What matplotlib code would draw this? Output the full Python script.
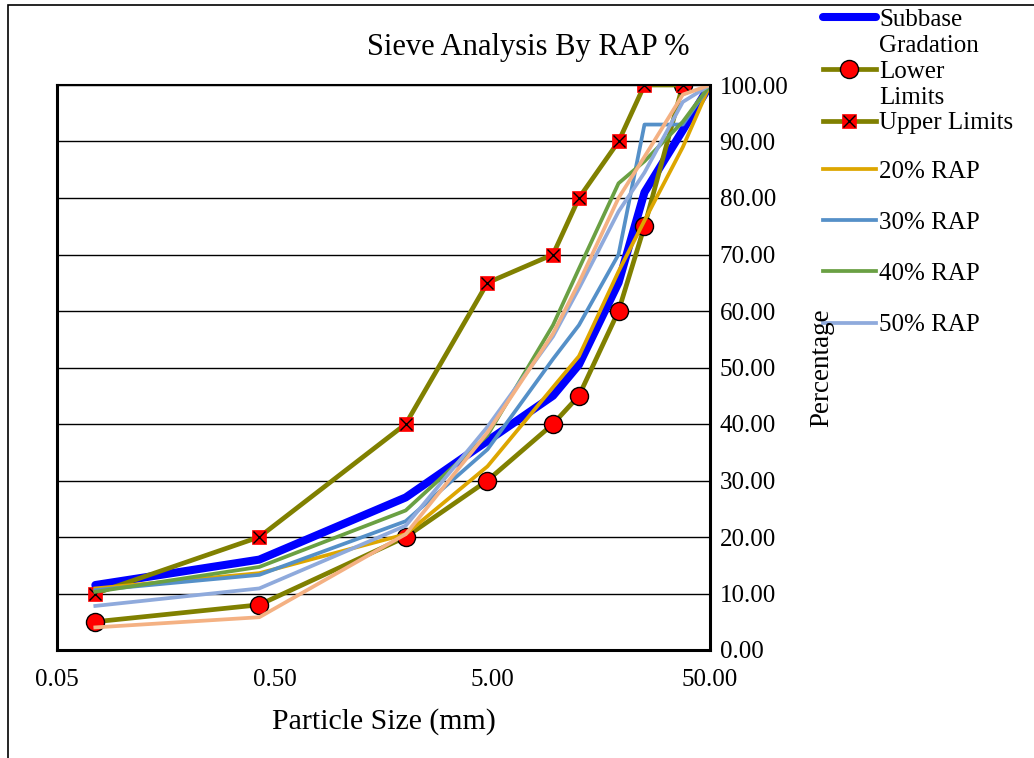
import numpy as np
import matplotlib.pyplot as plt
from matplotlib.patches import Rectangle
from matplotlib.legend_handler import HandlerTuple

plt.rcParams['font.family'] = ['Liberation Serif', 'DejaVu Serif']

# sieve sizes (mm)
sizes = [0.075, 0.425, 2.0, 4.75, 9.5, 12.5, 19, 25, 37.5, 50]
limit_sizes = [0.075, 0.425, 2.0, 4.75, 9.5, 12.5, 19, 25, 37.5]

# percent passing
subbase = [11.5, 16, 27, 37, 45, 50.5, 65, 81, 92, 100]
lower_limits = [5, 8, 20, 30, 40, 45, 60, 75, 100]
upper_limits = [10, 20, 40, 65, 70, 80, 90, 100, 100]
rap20 = [10.9, 13.6, 20.5, 32.5, 46.5, 52, 67, 76, 89, 100]
rap30 = [10.6, 13.3, 22.8, 35.5, 51.5, 57.5, 70, 93, 93, 100]
rap40 = [10.3, 14.7, 24.7, 38, 57.5, 67.5, 82.6, 86.5, 93.5, 100]
rap50 = [7.8, 10.9, 22, 39.5, 55.5, 64, 77.6, 84.5, 97, 100]
rap60 = [4, 5.8, 20.5, 38.5, 56, 65, 80, 87.3, 98.3, 100]

fig = plt.figure(figsize=(10.34, 7.58), dpi=100)
ax = fig.add_axes([57/1034, 1-650/758, (710-57)/1034, (650-85)/758])

l_sub, = ax.plot(sizes, subbase, color='#0000FF', lw=5.8, solid_capstyle='round')
l_low, = ax.plot(limit_sizes, lower_limits, color='#808000', lw=3.4, marker='o', ms=13,
                 mfc='red', mec='black', mew=1)
l_up, = ax.plot(limit_sizes, upper_limits, color='#808000', lw=3.4, marker='s', ms=10,
                mfc='red', mec='red', mew=0.5)
l_upx, = ax.plot(limit_sizes, upper_limits, ls='none', marker='x', ms=9, mec='black', mew=1)
l20, = ax.plot(sizes, rap20, color='#DDA600', lw=2.7)
l30, = ax.plot(sizes, rap30, color='#5590C8', lw=2.7)
l40, = ax.plot(sizes, rap40, color='#6AA043', lw=2.7)
l50, = ax.plot(sizes, rap50, color='#8FAADC', lw=2.7)
l60, = ax.plot(sizes, rap60, color='#F4B183', lw=2.7)

ax.set_xscale('log')
ax.set_xlim(0.05, 50)
ax.set_ylim(0, 100)
ax.set_xticks([0.05, 0.5, 5, 50])
ax.set_xticklabels(['0.05', '0.50', '5.00', '50.00'])
ax.minorticks_off()
ax.set_yticks(np.arange(0, 101, 10))
ax.set_yticklabels(['%.2f' % v for v in np.arange(0, 101, 10)])
ax.yaxis.tick_right()
ax.tick_params(axis='both', length=0, labelsize=18)
ax.tick_params(axis='y', pad=7)
ax.tick_params(axis='x', pad=14)
ax.grid(axis='y', color='black', lw=1)
ax.set_axisbelow(True)
for s in ax.spines.values():
    s.set_linewidth(2.2)
    s.set_color('black')
ax.spines['top'].set_linewidth(1.5)

ax.set_xlabel('Particle Size (mm)', fontsize=21.5, labelpad=12)
fig.text(822/1034, 1-368/758, 'Percentage', rotation=90, ha='center', va='center', fontsize=19.5)
fig.text(528/1034, 1-47/758, 'Sieve Analysis By RAP %', ha='center', va='center', fontsize=22)

# legend (two blocks, like the Excel one)
blank = plt.Line2D([], [], color='none')
leg1 = ax.legend([l_sub, blank, l_low, blank, (l_up, l_upx)],
                 ['Subbase', 'Gradation', 'Lower', 'Limits', 'Upper Limits'],
                 handler_map={tuple: HandlerTuple(ndivide=1)},
                 loc='upper left', bbox_to_anchor=(823/1034, 1-8/758),
                 bbox_transform=fig.transFigure, frameon=False, fontsize=18,
                 handlelength=2.1, handletextpad=0.15, labelspacing=0.14,
                 borderpad=0, borderaxespad=0)
ax.add_artist(leg1)
ax.legend([l20, l30, l40, l50], ['20% RAP', '30% RAP', '40% RAP', '50% RAP'],
          loc='upper left', bbox_to_anchor=(823/1034, 1-160/758),
          bbox_transform=fig.transFigure, frameon=False, fontsize=18,
          handlelength=2.1, handletextpad=0.15, labelspacing=1.15,
          borderpad=0, borderaxespad=0)

# chart area border (cut off at right and bottom)
fig.add_artist(Rectangle((8/1034, -0.1), 1.2, 1.1 - 5/758, transform=fig.transFigure,
                         fill=False, ec='black', lw=1.2, clip_on=False))

fig.savefig('out.png', dpi=100)
